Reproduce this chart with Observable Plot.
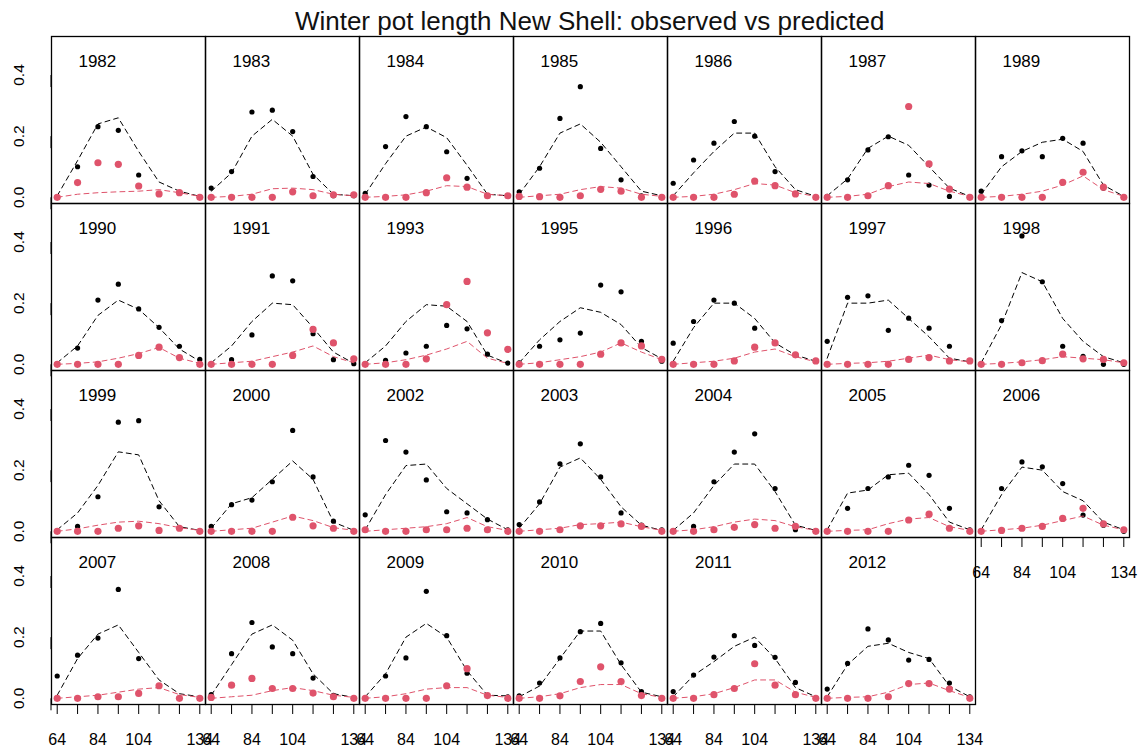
<!DOCTYPE html>
<html>
<head>
<meta charset="utf-8">
<script src="https://cdn.jsdelivr.net/npm/d3@7"></script>
<script src="https://cdn.jsdelivr.net/npm/@observablehq/plot@0.6"></script>
<style>
  body { margin: 0; background: white; font-family: "Liberation Sans", Arial, sans-serif; }
  #titlebox { position: relative; height: 30px; width: 1141px; }
  #title { position: absolute; top: 8px; left: 50px; right: 11.6px; text-align: center;
           font-size: 26px; line-height: 26px; color: #111; white-space: nowrap; }
</style>
</head>
<body>
<div id="titlebox"><div id="title">Winter pot length New Shell: observed vs predicted</div></div>
<div id="chart"></div>
<script>
// ---- data ----
const years = [1982, 1983, 1984, 1985, 1986, 1987, 1989,
               1990, 1991, 1993, 1995, 1996, 1997, 1998,
               1999, 2000, 2002, 2003, 2004, 2005, 2006,
               2007, 2008, 2009, 2010, 2011, 2012];
const lengths = [64, 74, 84, 94, 104, 114, 124, 134];
const xTickLabels = [64, 84, 104, 134];
const yTicks = [0, 0.2, 0.4];
const yLimits = [-0.0203, 0.526];

// observed proportions, black series
const obsBlack = [
  [0, 0.10, 0.231, 0.219, 0.073, 0.011, 0.015, 0],
  [0.03, 0.084, 0.279, 0.285, 0.215, 0.068, 0.005, 0.005],
  [0.013, 0.166, 0.264, 0.231, 0.149, 0.062, 0.005, 0.005],
  [0.018, 0.095, 0.258, 0.362, 0.16, 0.057, 0.005, 0],
  [0.046, 0.122, 0.177, 0.248, 0.2, 0.084, 0.01, 0],
  [0.003, 0.057, 0.155, 0.198, 0.073, 0.04, 0.003, 0],
  [0.02, 0.133, 0.152, 0.133, 0.193, 0.177, 0.03, 0],
  [0, 0.053, 0.21, 0.262, 0.181, 0.121, 0.059, 0.016],
  [0, 0.015, 0.096, 0.289, 0.273, 0.1, 0.015, 0.002],
  [0, 0.013, 0.037, 0.059, 0.127, 0.116, 0.033, 0.004],
  [0.005, 0.059, 0.08, 0.102, 0.259, 0.237, 0.075, 0.01],
  [0.069, 0.14, 0.21, 0.2, 0.118, 0.07, 0.03, 0.01],
  [0.075, 0.219, 0.224, 0.111, 0.151, 0.118, 0.059, 0.011],
  [0, 0.143, 0.42, 0.27, 0.059, 0.026, 0, 0],
  [0, 0.016, 0.113, 0.357, 0.362, 0.08, 0.011, 0],
  [0.016, 0.087, 0.102, 0.162, 0.33, 0.178, 0.033, 0],
  [0.054, 0.297, 0.259, 0.168, 0.064, 0.06, 0.038, 0.005],
  [0.022, 0.096, 0.221, 0.286, 0.178, 0.06, 0.02, 0.005],
  [0, 0.016, 0.162, 0.259, 0.319, 0.14, 0.005, 0],
  [0, 0.075, 0.14, 0.178, 0.216, 0.183, 0.075, 0.005],
  [0, 0.14, 0.227, 0.211, 0.156, 0.053, 0.02, 0],
  [0.073, 0.141, 0.197, 0.356, 0.13, 0.04, 0, 0],
  [0.012, 0.146, 0.248, 0.168, 0.146, 0.066, 0.01, 0],
  [0, 0.073, 0.132, 0.35, 0.205, 0.082, 0.01, 0.005],
  [0.008, 0.05, 0.132, 0.218, 0.245, 0.116, 0.022, 0],
  [0.022, 0.076, 0.135, 0.205, 0.173, 0.134, 0.052, 0],
  [0.03, 0.114, 0.227, 0.191, 0.125, 0.127, 0.05, 0.005]
];
// observed proportions, red series
const obsRed = [
  [0, 0.048, 0.113, 0.108, 0.037, 0.011, 0.015, 0],
  [0, 0, 0, 0, 0.018, 0.005, 0.008, 0.008],
  [0, 0, 0, 0.015, 0.064, 0.033, 0.005, 0.005],
  [0.003, 0.002, 0, 0.005, 0.026, 0.02, 0, 0],
  [0, 0, 0, 0.01, 0.053, 0.038, 0.011, 0],
  [0, 0, 0.005, 0.038, 0.297, 0.109, 0.027, 0],
  [0, 0, 0, 0, 0.049, 0.082, 0.033, 0],
  [0, 0, 0, 0, 0.029, 0.056, 0.022, 0],
  [0, 0, 0, 0, 0.029, 0.114, 0.07, 0.018],
  [0, 0, 0, 0.018, 0.195, 0.271, 0.103, 0.049],
  [0, 0, 0, 0, 0.033, 0.07, 0.06, 0.016],
  [0, 0, 0, 0.011, 0.056, 0.07, 0.031, 0.011],
  [0, 0, 0, 0, 0.016, 0.022, 0.011, 0.011],
  [0, 0, 0.005, 0.012, 0.033, 0.018, 0.016, 0.005],
  [0, 0, 0, 0.01, 0.018, 0.003, 0.01, 0],
  [0, 0, 0, 0, 0.046, 0.018, 0.01, 0],
  [0.005, 0, 0, 0.005, 0.005, 0.01, 0.005, 0],
  [0, 0, 0.005, 0.018, 0.018, 0.024, 0.016, 0],
  [0, 0, 0.005, 0.013, 0.022, 0.01, 0.016, 0],
  [0, 0, 0, 0, 0.037, 0.056, 0.01, 0],
  [0, 0.003, 0.01, 0.016, 0.042, 0.075, 0.024, 0.005],
  [0, 0, 0.005, 0.005, 0.016, 0.041, 0, 0],
  [0.003, 0.043, 0.065, 0.032, 0.032, 0.017, 0.005, 0],
  [0, 0, 0, 0, 0.041, 0.097, 0.009, 0],
  [0, 0, 0.008, 0.055, 0.103, 0.055, 0.009, 0],
  [0, 0, 0.012, 0.032, 0.113, 0.043, 0.012, 0],
  [0, 0, 0, 0.005, 0.048, 0.048, 0.03, 0]
];
// predicted proportions, black dashed line
const predBlack = [
  [0.005, 0.12, 0.24, 0.26, 0.15, 0.05, 0.02, 0.003],
  [0.02, 0.08, 0.2, 0.255, 0.2, 0.075, 0.01, 0.005],
  [0.01, 0.11, 0.2, 0.23, 0.195, 0.105, 0.01, 0.005],
  [0.01, 0.1, 0.21, 0.24, 0.18, 0.1, 0.02, 0.005],
  [0.005, 0.08, 0.15, 0.21, 0.21, 0.1, 0.025, 0.003],
  [0.005, 0.06, 0.16, 0.2, 0.17, 0.1, 0.03, 0.003],
  [0.01, 0.1, 0.15, 0.18, 0.19, 0.15, 0.04, 0.003],
  [0.005, 0.06, 0.16, 0.21, 0.18, 0.12, 0.05, 0.01],
  [0.005, 0.06, 0.14, 0.2, 0.195, 0.12, 0.04, 0.003],
  [0.005, 0.06, 0.14, 0.195, 0.19, 0.14, 0.03, 0.003],
  [0.005, 0.08, 0.14, 0.185, 0.17, 0.13, 0.055, 0.018],
  [0.01, 0.12, 0.2, 0.2, 0.15, 0.07, 0.03, 0.01],
  [0.02, 0.2, 0.2, 0.21, 0.15, 0.09, 0.02, 0.008],
  [0.005, 0.13, 0.3, 0.27, 0.15, 0.075, 0.025, 0.005],
  [0.005, 0.06, 0.15, 0.26, 0.25, 0.1, 0.015, 0.003],
  [0.01, 0.09, 0.11, 0.17, 0.23, 0.17, 0.03, 0.003],
  [0.005, 0.12, 0.215, 0.22, 0.14, 0.09, 0.04, 0.005],
  [0.01, 0.09, 0.21, 0.24, 0.17, 0.08, 0.02, 0.003],
  [0.003, 0.06, 0.15, 0.22, 0.22, 0.13, 0.02, 0.003],
  [0.005, 0.125, 0.135, 0.185, 0.19, 0.12, 0.03, 0.005],
  [0.005, 0.12, 0.21, 0.2, 0.13, 0.1, 0.03, 0.005],
  [0.01, 0.13, 0.21, 0.24, 0.15, 0.06, 0.015, 0.005],
  [0.01, 0.11, 0.21, 0.24, 0.19, 0.08, 0.015, 0.003],
  [0.005, 0.08, 0.2, 0.245, 0.2, 0.09, 0.01, 0.008],
  [0.005, 0.04, 0.13, 0.22, 0.22, 0.11, 0.02, 0.005],
  [0.005, 0.075, 0.12, 0.17, 0.2, 0.13, 0.035, 0.005],
  [0.005, 0.11, 0.17, 0.18, 0.15, 0.13, 0.04, 0.005]
];
// predicted proportions, red dashed line
const predRed = [
  [0, 0.01, 0.015, 0.018, 0.02, 0.025, 0.015, 0.003],
  [0, 0.003, 0.01, 0.028, 0.03, 0.025, 0.01, 0.005],
  [0, 0.003, 0.008, 0.02, 0.038, 0.035, 0.01, 0.005],
  [0, 0.005, 0.01, 0.025, 0.035, 0.03, 0.01, 0.003],
  [0, 0.003, 0.01, 0.025, 0.045, 0.04, 0.015, 0.003],
  [0, 0.003, 0.01, 0.035, 0.05, 0.045, 0.02, 0.003],
  [0, 0.003, 0.01, 0.02, 0.04, 0.07, 0.025, 0.003],
  [0, 0.003, 0.008, 0.02, 0.035, 0.055, 0.02, 0.003],
  [0, 0.005, 0.01, 0.025, 0.04, 0.06, 0.025, 0.005],
  [0, 0.005, 0.015, 0.03, 0.05, 0.075, 0.02, 0.003],
  [0, 0.005, 0.015, 0.025, 0.04, 0.07, 0.04, 0.015],
  [0, 0.005, 0.01, 0.02, 0.04, 0.05, 0.025, 0.008],
  [0, 0.003, 0.005, 0.01, 0.02, 0.03, 0.015, 0.008],
  [0, 0.003, 0.008, 0.015, 0.025, 0.02, 0.015, 0.005],
  [0, 0.008, 0.02, 0.03, 0.033, 0.025, 0.012, 0.003],
  [0, 0.005, 0.01, 0.03, 0.05, 0.035, 0.012, 0.003],
  [0, 0.005, 0.01, 0.015, 0.025, 0.045, 0.015, 0.003],
  [0, 0.005, 0.01, 0.022, 0.025, 0.03, 0.015, 0.003],
  [0, 0.005, 0.015, 0.03, 0.04, 0.035, 0.015, 0.003],
  [0, 0.003, 0.005, 0.025, 0.04, 0.045, 0.015, 0.003],
  [0, 0.005, 0.01, 0.02, 0.035, 0.05, 0.02, 0.005],
  [0, 0.005, 0.01, 0.02, 0.03, 0.035, 0.012, 0.003],
  [0, 0.005, 0.01, 0.025, 0.035, 0.025, 0.01, 0.003],
  [0, 0.005, 0.015, 0.03, 0.035, 0.035, 0.01, 0.003],
  [0, 0.005, 0.015, 0.035, 0.045, 0.045, 0.015, 0.003],
  [0, 0.005, 0.015, 0.035, 0.06, 0.06, 0.02, 0.003],
  [0, 0.003, 0.005, 0.02, 0.045, 0.05, 0.025, 0.003]
];

// ---- build the long table ----
const NCOL = 7;
const table = years.flatMap((yr, i) => lengths.map((L, j) => ({
  year: yr, col: i % NCOL, row: Math.floor(i / NCOL), len: L,
  obsB: obsBlack[i][j], obsR: obsRed[i][j], predB: predBlack[i][j], predR: predRed[i][j]
})));
const panels = years.map((yr, i) => ({year: String(yr), col: i % NCOL, row: Math.floor(i / NCOL)}));

const span = lengths[lengths.length - 1] - lengths[0];
const xPad = 0.04 * span;
const RED = "#DF536B";
const facet = {fx: "col", fy: "row"};

const chart = Plot.plot({
  width: 1141,
  height: 718,
  marginTop: 5,
  marginBottom: 42.2,
  marginLeft: 50,
  marginRight: 11.6,
  style: {fontFamily: "'Liberation Sans', Arial, sans-serif", background: "white", color: "black"},
  x: {domain: [lengths[0] - xPad, lengths[lengths.length - 1] + xPad], label: null},
  y: {domain: yLimits, label: null},
  fx: {padding: 0, axis: null},
  fy: {padding: 0, axis: null},
  marks: [
    Plot.frame({stroke: "black", strokeWidth: 1.3}),
    Plot.axisX({ticks: lengths, tickFormat: d => xTickLabels.includes(d) ? String(d) : "",
                tickSize: 10, tickPadding: 19, fontSize: 16, label: null}),
    Plot.axisY({ticks: yTicks, tickFormat: d3.format(".1f"), tickSize: 12, tickPadding: 20,
                rotate: -90, textAnchor: "middle", fontSize: 15.5, label: null}),
    Plot.text(panels, {...facet, x: () => lengths[0] + 19.7, y: () => 0.445, text: d => d.year,
                       fontSize: 17, textAnchor: "middle", fill: "black"}),
    Plot.line(table, {...facet, x: "len", y: "predB", z: "year", stroke: "black",
                      strokeWidth: 1, strokeDasharray: "5,4"}),
    Plot.dot(table, {...facet, x: "len", y: "obsB", r: 2.6, fill: "black", stroke: "none"}),
    Plot.line(table, {...facet, x: "len", y: "predR", z: "year", stroke: RED,
                      strokeWidth: 1, strokeDasharray: "5,4"}),
    Plot.dot(table, {...facet, x: "len", y: "obsR", r: 3.6, fill: RED, stroke: "none"})
  ]
});
document.getElementById("chart").appendChild(chart);
</script>
</body>
</html>
